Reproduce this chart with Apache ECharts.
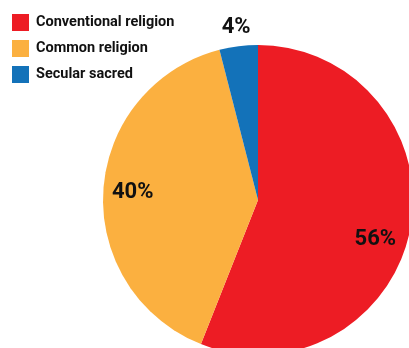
<!DOCTYPE html>
<html><head><meta charset="utf-8">
<script src="https://cdn.jsdelivr.net/npm/echarts@6/dist/echarts.min.js"></script>
<style>html,body{margin:0;padding:0;background:#fff}#c{width:409px;height:348px}</style>
</head><body><div id="c"></div>
<script>
const categories = ['Conventional religion', 'Common religion', 'Secular sacred'];
const values = [56, 40, 4];
const colors = ['#ED1C24', '#FBB040', '#1372B9'];
const FONT = 'Roboto, "DejaVu Sans Condensed", sans-serif';
const labelOffsets = [[-6, 16], [0, 0], [0, 0]];

const chart = echarts.init(document.getElementById('c'), null, { renderer: 'canvas' });
const ghost = (radius, show) => ({
  type: 'pie', radius: radius, center: [258, 200], silent: true, legendHoverLink: false,
  startAngle: 90, animation: false,
  emphasis: { disabled: true },
  labelLine: { show: false },
  data: categories.map((n, i) => ({
    name: n, value: values[i], itemStyle: { color: 'rgba(0,0,0,0)', borderWidth: 0 },
    label: { show: show[i], position: 'inside', formatter: '{c}%', color: '#111',
      offset: labelOffsets[i], fontFamily: FONT, fontWeight: 'bold', fontSize: 22 }
  }))
});
chart.setOption({
  animation: false,
  legend: {
    orient: 'vertical', left: 12, top: 14, padding: 0, itemWidth: 17, itemHeight: 17, itemGap: 9,
    icon: 'rect', selectedMode: false,
    data: categories,
    textStyle: { fontFamily: FONT, fontWeight: 'bold', fontSize: 14.5, color: '#111', padding: [0, 0, 0, 2] }
  },
  series: [
    { type: 'pie', radius: 155, center: [258, 200], startAngle: 90, label: { show: false },
      labelLine: { show: false }, emphasis: { disabled: true }, itemStyle: { borderWidth: 0 },
      data: categories.map((n, i) => ({ name: n, value: values[i], itemStyle: { color: colors[i] } })) },
    ghost([90, 155], [true, true, false]),
    ghost([160, 182], [false, false, true])
  ]
});
</script></body></html>
